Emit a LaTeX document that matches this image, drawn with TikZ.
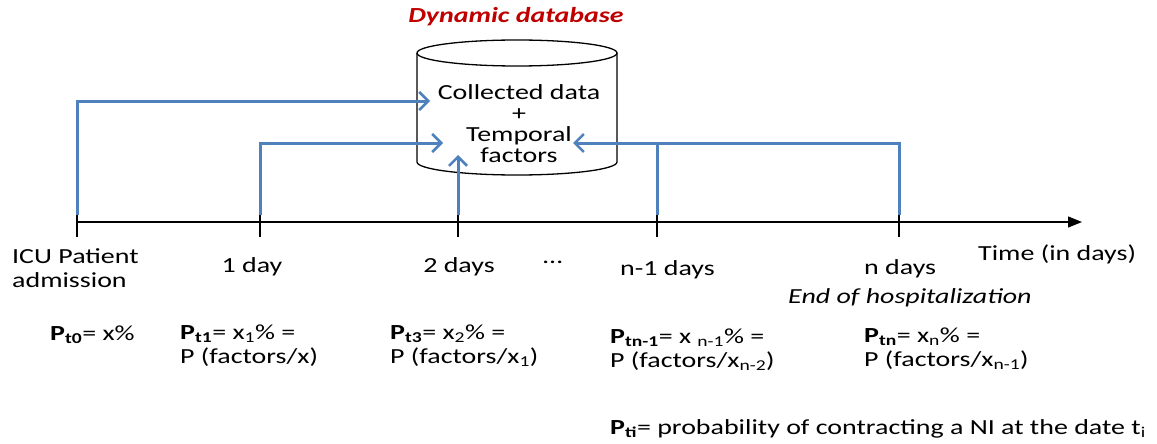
\documentclass[tikz,border=0pt]{standalone}
\usepackage{fontspec}
\setmainfont{Carlito}[FakeStretch=1.3]
\usetikzlibrary{arrows.meta}
\definecolor{feedblue}{RGB}{79,129,189}
\definecolor{titlered}{RGB}{192,0,0}
\begin{document}
\begin{tikzpicture}[x=1pt,y=-1pt,
    feed/.style={feedblue,line width=3pt},
    feedarrow/.style={feed,-{Straight Barb[length=9pt,width=18pt,line width=2.5pt]}},
    tickmark/.style={black,line width=1.2pt},
    lbl/.style={inner sep=0pt,anchor=base west,font=\fontsize{21.5}{24}\selectfont},
    stamp/.style={lbl,anchor=base},
  ]
    \useasboundingbox (0,0) rectangle (1157,444);

    % Base di dati dinamica
    \node[font=\fontsize{21.5}{24}\selectfont\bfseries\itshape,text=titlered,inner sep=0pt] (title) at (516,17) {Dynamic database};
    \draw[line width=1.3pt] (417,53) -- (417,162) arc[start angle=180,end angle=0,x radius=100,y radius=13] -- (617,53);
    \draw[line width=1.3pt] (517,53) ellipse [x radius=100,y radius=13];
    \node[inner sep=0pt,align=center,font=\fontsize{21.5}{21}\selectfont] (db) at (519,124)
        {Collected data\\+\\Temporal\\factors};

    % Asse del tempo
    \coordinate (origin) at (77,222);
    \coordinate (axisend) at (1082,222);
    \draw[line width=1.2pt,-{Triangle[length=14pt,width=11pt]}] (origin) -- (axisend);
    \foreach \name/\x in {d0/77,d1/260,d2/458,dm/657,dn/899}{
        \coordinate (\name) at (\x,215);
        \draw[tickmark] (\x,215) -- (\x,237);
    }

    % Punte delle frecce nel database
    \coordinate (in0) at (430,101);
    \coordinate (in1) at (443,143);
    \coordinate (in2) at (458,155);
    \coordinate (inn) at (573,143);

    % Frecce blu
    \draw[feedarrow] (d0) |- (in0);
    \draw[feedarrow] (d1) |- (in1);
    \draw[feedarrow] (d2) -- (in2);
    \draw[feedarrow] (dn) |- (inn);
    \draw[feed] (dm) -- (dm |- inn);

    % Etichette dei giorni (ancora sulla riga di base dell'ultima riga)
    \node[lbl,align=left] (adm) at (12,287) {ICU Patient\\admission};
    \node[stamp] (day1) at (252,272) {1 day};
    \node[stamp] (day2) at (459,272) {2 days};
    \node[lbl] (dots) at (543,263) {…};
    \node[lbl] (daym) at (620,275) {n-1 days};
    \node[lbl] (dayn) at (864,274) {n days};
    \node[lbl] (time) at (978,260) {Time (in days)};
    \node[lbl,font=\fontsize{21.5}{24}\selectfont\itshape] (end) at (788,303) {End of hospitalization};

    % Probabilita
    \node[lbl] (p0) at (50,340) {\textbf{P\textsubscript{t0}}= x\%};
    \node[lbl,align=left] (p1) at (180,363) {\textbf{P\textsubscript{t1}}= x\textsubscript{1}\% =\\P (factors/x)};
    \node[lbl,align=left] (p2) at (390,363) {\textbf{P\textsubscript{t3}}= x\textsubscript{2}\% =\\P (factors/x\textsubscript{1})};
    \node[lbl,align=left] (pm) at (610,367) {\textbf{P\textsubscript{tn-1}}= x \textsubscript{n-1}\% =\\P (factors/x\textsubscript{n-2})};
    \node[lbl,align=left] (pn) at (864,366) {\textbf{P\textsubscript{tn}}= x\textsubscript{n}\% =\\P (factors/x\textsubscript{n-1})};
    \node[lbl] (pi) at (610,434) {\textbf{P\textsubscript{ti}}= probability of contracting a NI at the date t\textsubscript{i}};
\end{tikzpicture}
\end{document}
